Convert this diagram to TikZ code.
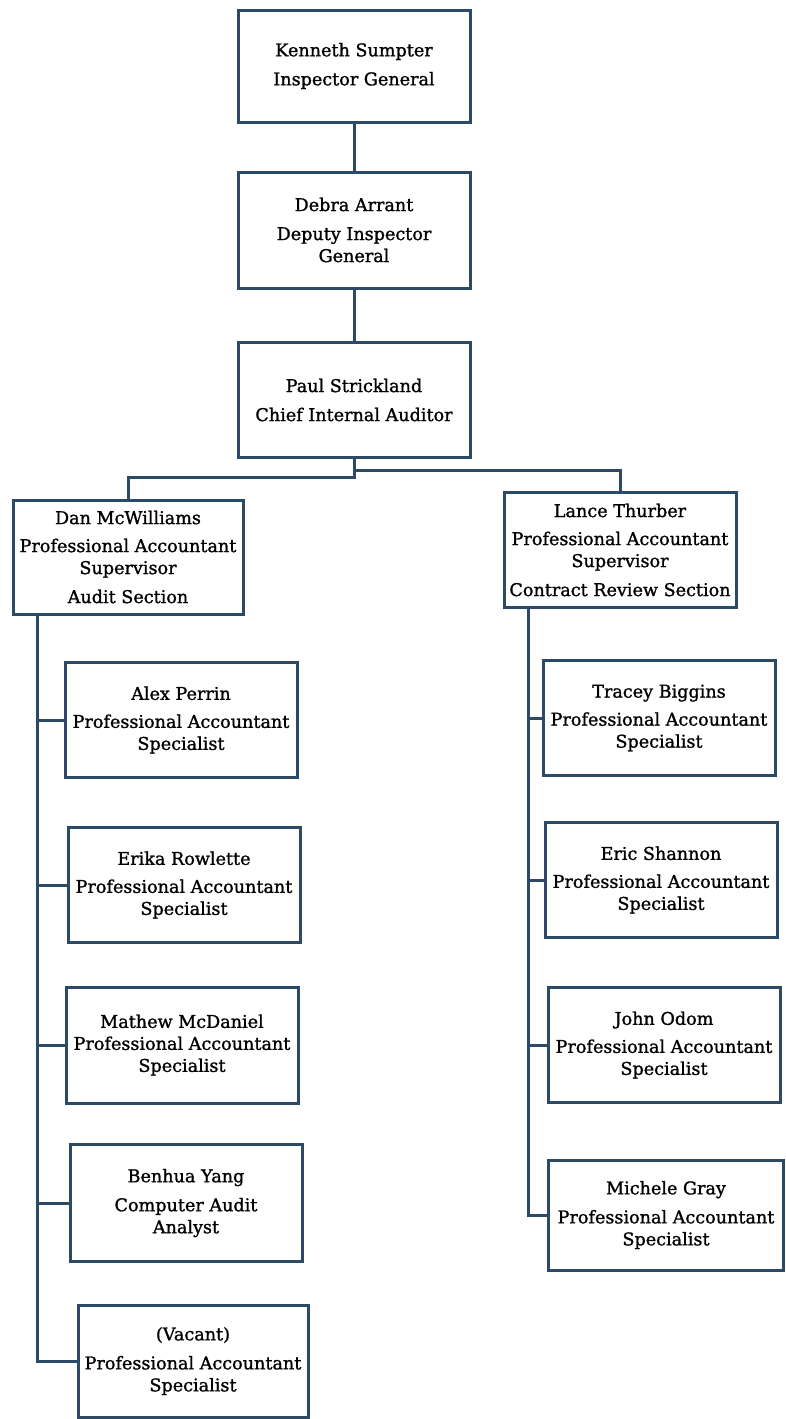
\documentclass[tikz,border=0pt]{standalone}
\usepackage{fontspec}
\setmainfont{DejaVu Serif}
\newfontfamily\boxfont{DejaVu Serif}[FakeBold=1.2]
\usetikzlibrary{positioning}

\definecolor{boxline}{RGB}{44,74,102}

\tikzset{
    person/.style={draw=boxline, line width=3pt, fill=white, inner sep=0pt,
        minimum width=232pt, minimum height=115pt, align=center,
        font=\boxfont\fontsize{17.6}{22}\selectfont},
    link/.style={draw=boxline, line width=3pt}
}

\begin{document}
\begin{tikzpicture}[x=1pt, y=-1pt]
    \useasboundingbox (0,0) rectangle (785,1419);

    % Top of the office
    \node[person, minimum height=112pt] (ken) at (354, 66) {Kenneth Sumpter\\[7pt]Inspector General};
    \node[person, minimum height=116pt] (debra) at (354, 230) {Debra Arrant\\[7pt]Deputy Inspector\\General};
    \node[person] (paul) at (354, 400) {Paul Strickland\\[7pt]Chief Internal Auditor};

    % Section supervisors
    \node[person, minimum width=230pt, minimum height=114pt] (dan) at (128, 557)
        {Dan McWilliams\\[6pt]Professional Accountant\\Supervisor\\[7pt]Audit Section};
    \node[person] (lance) at (620, 550)
        {Lance Thurber\\[6pt]Professional Accountant\\Supervisor\\[7pt]Contract Review Section};

    % Audit section staff
    \node[person] (alex) at (181, 720) {Alex Perrin\\[6pt]Professional Accountant\\Specialist};
    \node[person] (erika) at (184, 885) {Erika Rowlette\\[6pt]Professional Accountant\\Specialist};
    \node[person, minimum height=116pt] (mathew) at (182, 1045) {Mathew McDaniel\\Professional Accountant\\Specialist};
    \node[person, minimum height=117pt] (benhua) at (186, 1203) {Benhua Yang\\[7pt]Computer Audit\\Analyst};
    \node[person, minimum width=230pt, minimum height=112pt] (vacant) at (193, 1361) {(Vacant)\\[7pt]Professional Accountant\\Specialist};

    % Contract review staff
    \node[person] (tracey) at (659, 718) {Tracey Biggins\\[6pt]Professional Accountant\\Specialist};
    \node[person] (eric) at (661, 880) {Eric Shannon\\[6pt]Professional Accountant\\Specialist};
    \node[person] (john) at (664, 1045) {John Odom\\[6pt]Professional Accountant\\Specialist};
    \node[person, minimum width=235pt, minimum height=110pt] (michele) at (666, 1215) {Michele Gray\\[7pt]Professional Accountant\\Specialist};

    % Spines
    \coordinate (lspine) at (37, 614);
    \coordinate (rspine) at (528, 608);

    % Connections
    \draw[link] (ken) -- (debra);
    \draw[link] (debra) -- (paul);
    \draw[link] (paul.south) -- ++(0, 18) -| (dan.north);
    \draw[link] (paul.south) -- ++(0, 11) -| (lance.north);

    \draw[link] (lspine) |- (vacant.west);
    \foreach \n in {alex, erika, mathew, benhua}
        \draw[link] (lspine |- \n.west) -- (\n.west);

    \draw[link] (rspine) |- (michele.west);
    \foreach \n in {tracey, eric, john}
        \draw[link] (rspine |- \n.west) -- (\n.west);

\end{tikzpicture}
\end{document}
